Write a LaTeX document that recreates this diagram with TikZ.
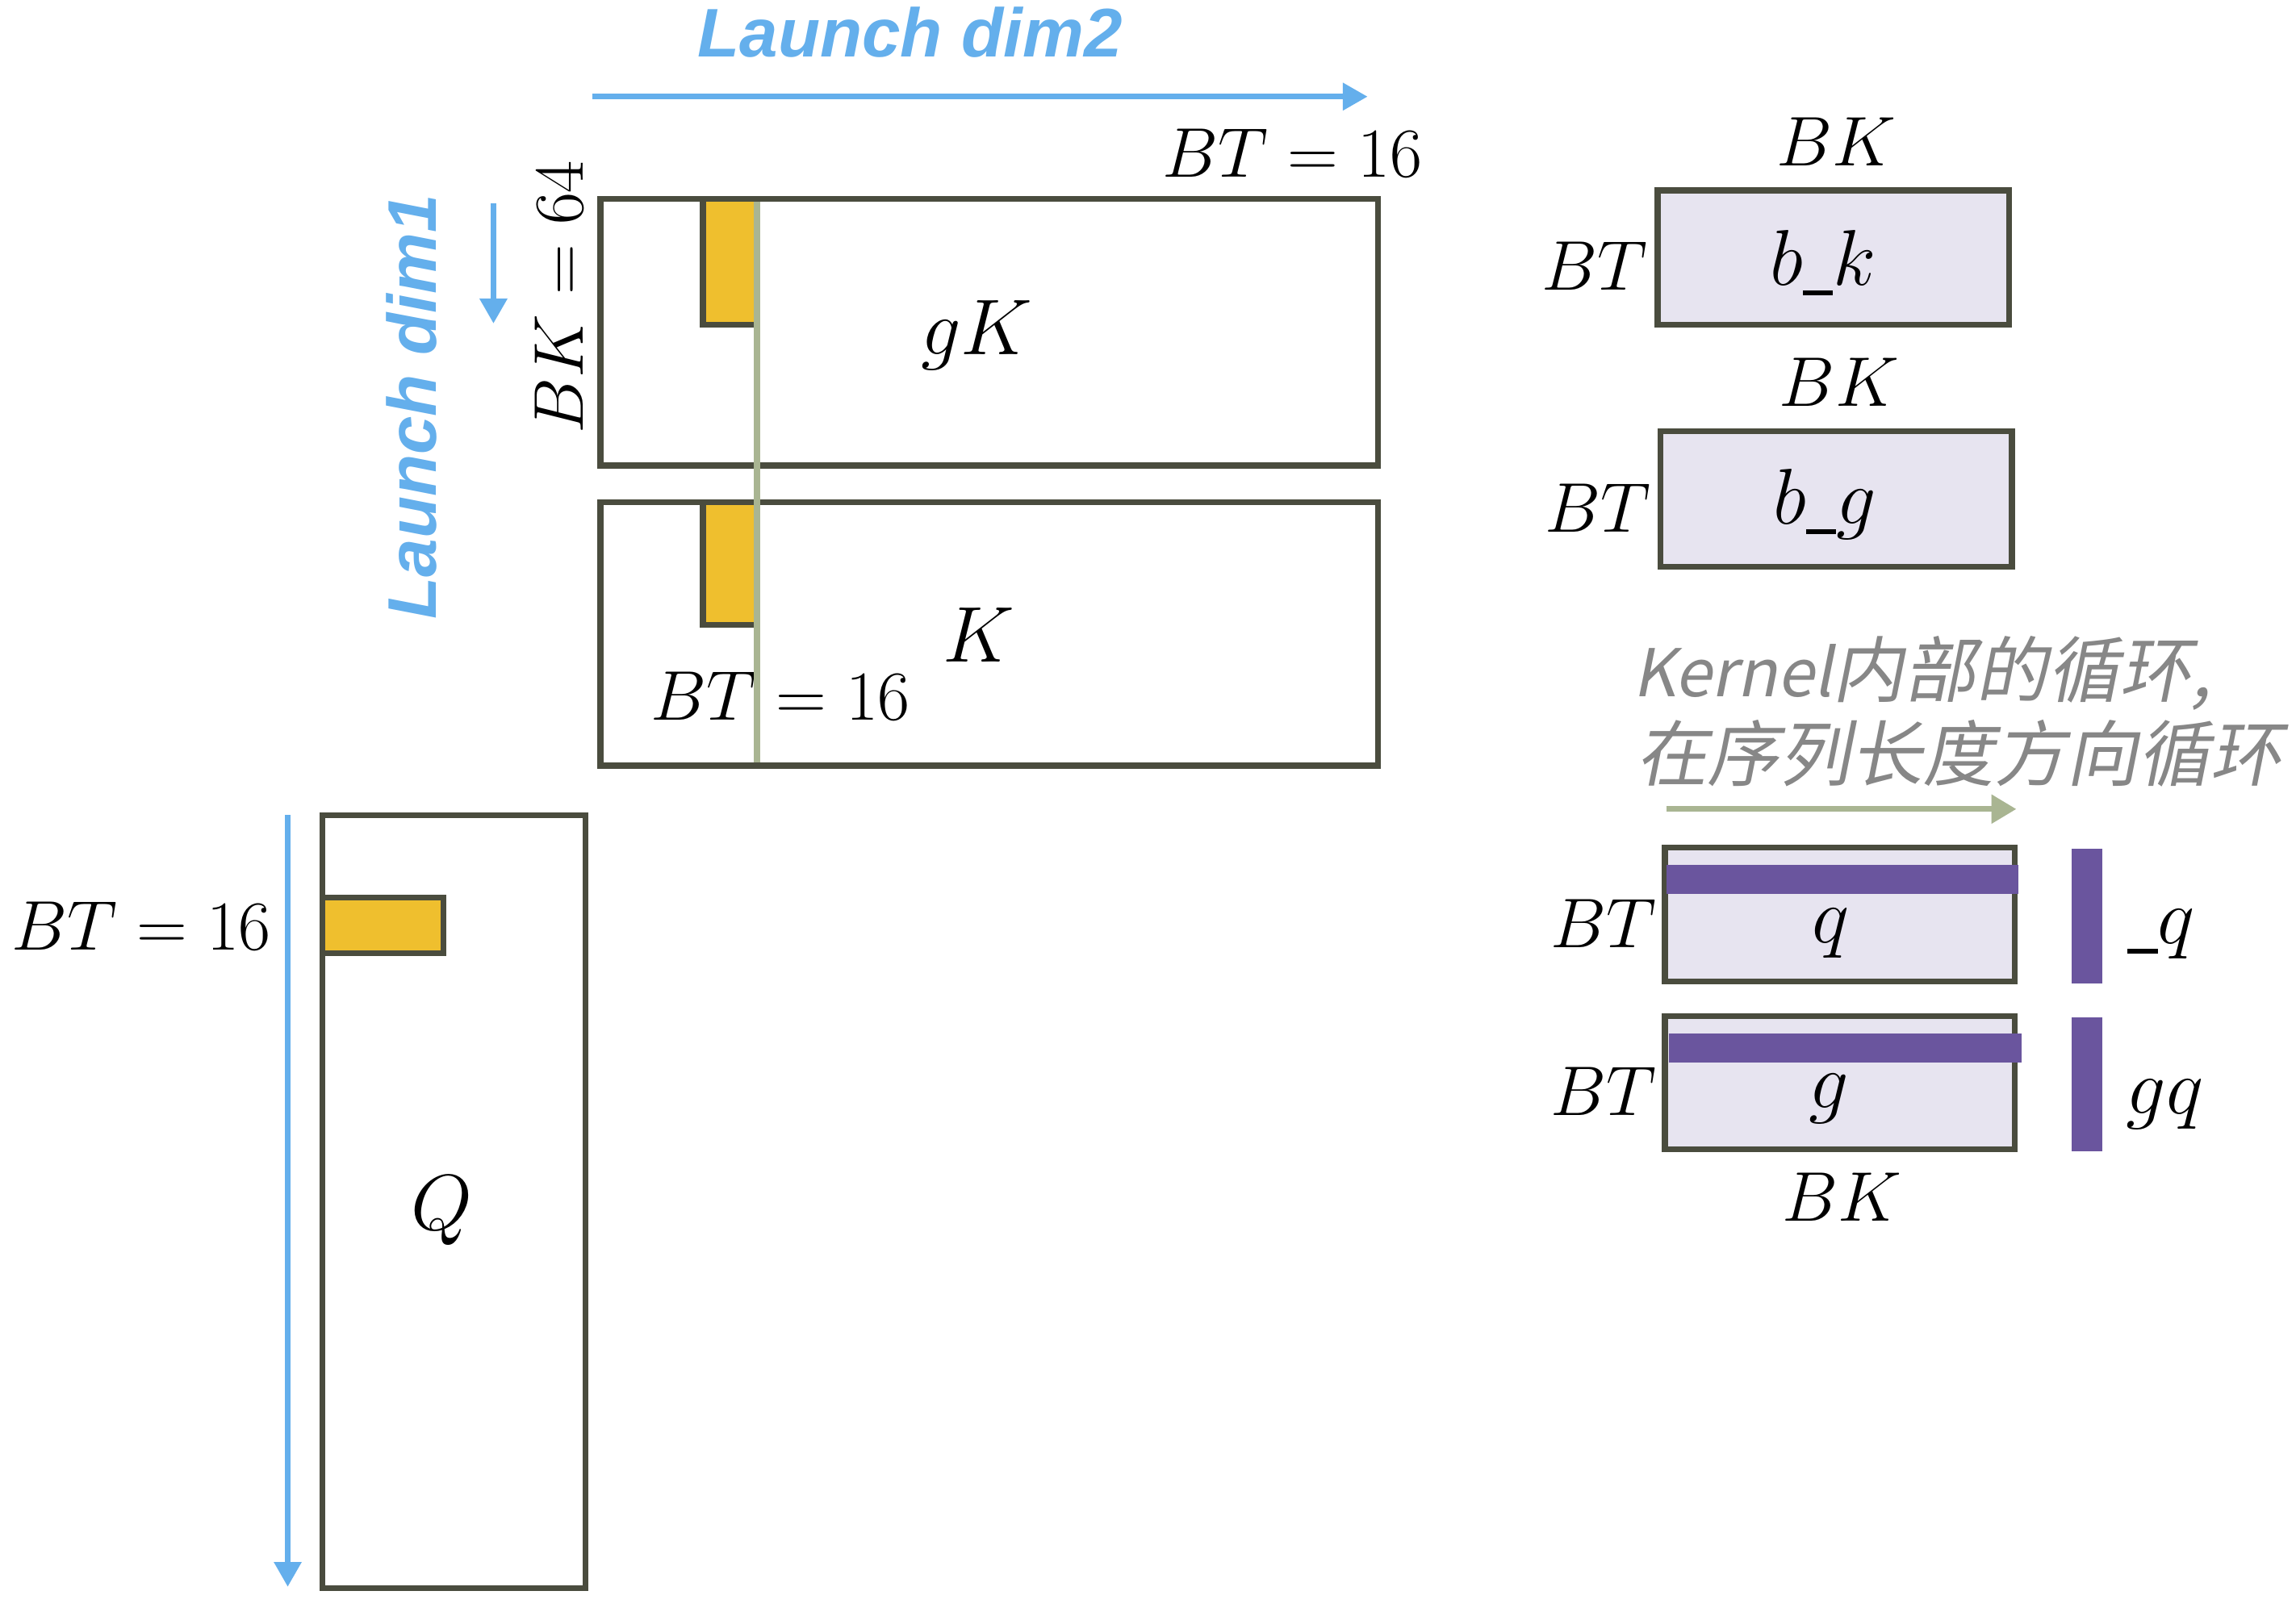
\RequirePackage{fix-cm}
\documentclass[tikz,border=0pt]{standalone}
\usepackage{fontspec}
\newfontfamily\launchfont{Liberation Sans}
\newfontfamily\cjkfont[FakeSlant=0.2]{Noto Sans CJK SC}
\usetikzlibrary{arrows.meta}
\definecolor{launchblue}{RGB}{100,175,236}
\definecolor{boxgray}{RGB}{74,76,62}
\definecolor{tileyellow}{RGB}{239,191,46}
\definecolor{sage}{RGB}{169,181,146}
\definecolor{lavender}{RGB}{231,228,240}
\definecolor{barpurple}{RGB}{106,85,158}
\definecolor{notegray}{RGB}{135,135,135}
\newcommand{\ubar}{\mbox{\rule[-0.13em]{0.38em}{0.06em}}}
\begin{document}
\begin{tikzpicture}[x=1pt,y=-1pt,
  mat/.style={draw=boxgray, line width=4pt, inner sep=0pt, outer sep=0pt, fill=white},
  blk/.style={draw=boxgray, line width=4pt, inner sep=0pt, outer sep=0pt, fill=lavender},
  tile/.style={draw=boxgray, line width=4pt, inner sep=0pt, outer sep=0pt, fill=tileyellow, anchor=north west},
  bar/.style={fill=barpurple, inner sep=0pt, outer sep=0pt},
  lbl/.style={inner sep=0pt, font=\fontsize{48}{56}\selectfont},
  big/.style={inner sep=0pt, font=\fontsize{54}{62}\selectfont, anchor=base},
  launch/.style={inner sep=0pt, text=launchblue, font=\launchfont\bfseries\itshape\fontsize{47}{56}\selectfont},
  note/.style={inner sep=0pt, text=notegray, anchor=base west, font=\cjkfont\fontsize{49}{57}\selectfont},
  larrow/.style={draw=launchblue, line width=4pt, -{Triangle[length=17pt,width=18pt]}},
  garrow/.style={draw=sage, line width=4pt, -{Triangle[length=17pt,width=19pt]}},
  scan/.style={draw=sage, line width=4pt}]
\path[use as bounding box, fill=white] (0,0) rectangle (1568,1103.4);

% ---- launch dimension 2 ----
\node[launch] (d2lbl) at (621.5,22.3) {Launch dim2};
\coordinate (d2s) at (404.6,66);
\coordinate (d2e) at (934,66);
\draw[larrow] (d2s) -- (d2e);
\node[lbl] (bttop) at (882.5,104.5) {$BT = 16$};

% ---- launch dimension 1 ----
\node[launch, rotate=90] (d1lbl) at (281,278) {Launch dim1};
\coordinate (d1s) at (337,139);
\coordinate (d1e) at (337,221);
\draw[larrow] (d1s) -- (d1e);
\node[lbl, rotate=90] (bk64) at (382,203) {$BK = 64$};

% ---- gK and K matrices ----
\node[mat, minimum width=531pt, minimum height=182pt] (gKbox) at (675.5,227) {};
\node[mat, minimum width=531pt, minimum height=180pt] (Kbox) at (675.5,433) {};
\node[tile, minimum width=37pt, minimum height=86pt] (gKtile) at (480,136) {};
\node[tile, minimum width=37pt, minimum height=84pt] (Ktile) at (480,343) {};
\node[big] (gKlbl) at (667,242) {$gK$};
\node[big] (Klbl) at (668.6,452) {$K$};
\node[lbl] (btK) at (533,475.5) {$BT = 16$};
\coordinate (scantop) at (517,138);
\coordinate (scanbot) at (517,521);
\draw[scan] (scantop) -- (scanbot);

% ---- Q matrix ----
\node[mat, minimum width=180pt, minimum height=528pt] (Qbox) at (310,821) {};
\node[tile, minimum width=83pt, minimum height=38pt] (Qtile) at (220,613) {};
\node[big] (Qlbl) at (301.5,840) {$Q$};
\coordinate (qas) at (196.5,556.8);
\coordinate (qae) at (196.5,1084);
\draw[larrow] (qas) -- (qae);
\node[lbl] (btQ) at (96.5,632.4) {$BT = 16$};

% ---- b_k and b_g blocks ----
\node[lbl] (bk1) at (1254,97) {$BK$};
\node[blk, minimum width=240pt, minimum height=92pt] (bkbox) at (1252,176) {};
\node[big] (bklbl) at (1245,194.6) {$b\ubar k$};
\node[lbl] (bt1) at (1089,182) {$BT$};
\node[lbl] (bk2) at (1256,261) {$BK$};
\node[blk, minimum width=240pt, minimum height=92.5pt] (bgbox) at (1254,340.75) {};
\node[big] (bglbl) at (1246,358) {$b\ubar g$};
\node[lbl] (bt2) at (1091,347) {$BT$};

% ---- inner loop note ----
\node[note] (note1) at (1115,476) {{\fontsize{45}{57}\selectfont Kernel}内部的循环,};
\node[note] (note2) at (1117,533) {在序列长度方向循环};
\coordinate (las) at (1138,552.7);
\coordinate (lae) at (1377,552.7);
\draw[garrow] (las) -- (lae);

% ---- q and g blocks ----
\node[blk, minimum width=239pt, minimum height=91.5pt] (qbox) at (1256.5,624.75) {};
\node[bar, minimum width=240.5pt, minimum height=19.6pt] (qbar) at (1258.25,600.8) {};
\node[big] (qlbl) at (1250,644) {$q$};
\node[lbl] (bt3) at (1095,631) {$BT$};
\node[bar, minimum width=20.5pt, minimum height=92pt] (qvec) at (1425.25,626) {};
\node[big] (uqlbl) at (1476,644.6) {$\ubar q$};

\node[blk, minimum width=239pt, minimum height=91pt] (gbox) at (1256.5,739.5) {};
\node[bar, minimum width=240.5pt, minimum height=20pt] (gbar) at (1260.25,716) {};
\node[big] (glbl) at (1249,757) {$g$};
\node[lbl] (bt4) at (1095,745.5) {$BT$};
\node[bar, minimum width=20.5pt, minimum height=91.7pt] (gvec) at (1425.25,740.85) {};
\node[big] (gqlbl) at (1478.5,761) {$gq$};
\node[lbl] (bk3) at (1258,818) {$BK$};
\end{tikzpicture}
\end{document}
